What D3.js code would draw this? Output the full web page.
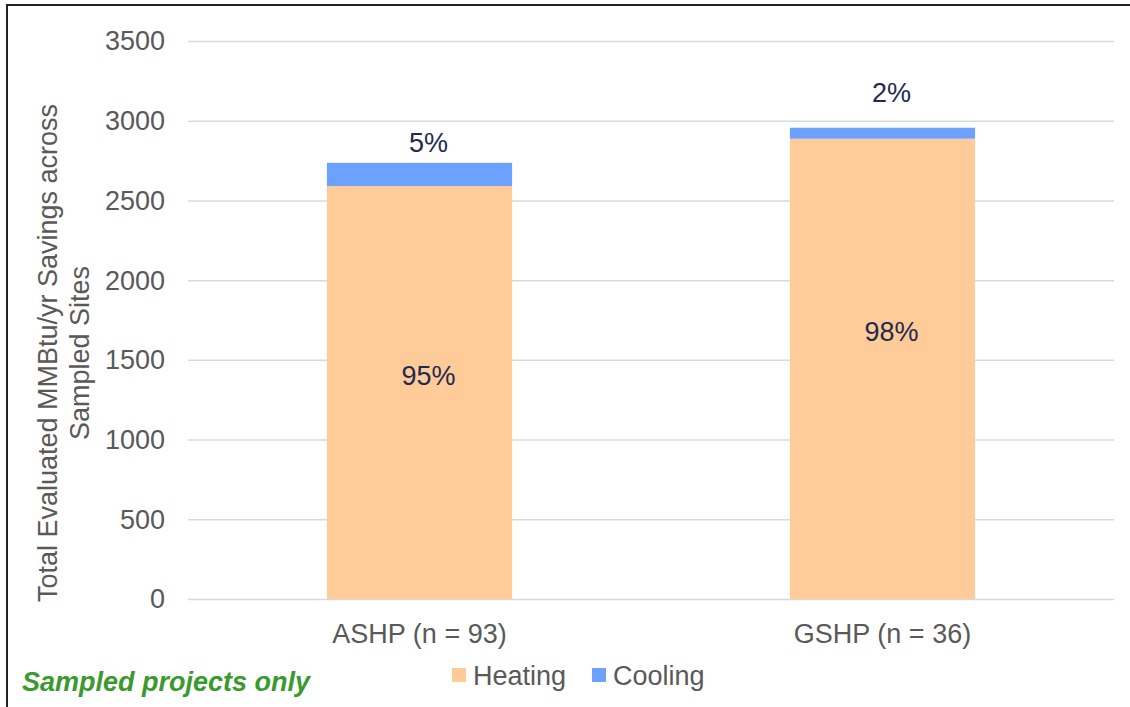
<!DOCTYPE html>
<html>
<head>
<meta charset="utf-8">
<script src="https://cdn.jsdelivr.net/npm/d3@7"></script>
<style>
  body { margin: 0; background: #fff; }
  svg text { font-family: "Liberation Sans", Arial, sans-serif; }
</style>
</head>
<body>
<svg width="1130" height="707"></svg>
<script>
const categories = ['ASHP (n = 93)', 'GSHP (n = 36)'];
const seriesNames = ['Heating', 'Cooling'];
const heating = [2590, 2887];
const cooling = [146, 69];
const yTicks = [0, 500, 1000, 1500, 2000, 2500, 3000, 3500];
// value levels at which the percentage labels sit
const heatingLabelAt = [1400, 1675];
const coolingLabelAt = [2860, 3175];

const COLORS = { Heating: '#ffcc99', Cooling: '#6ca1ff' };
const LABEL_COLOR = '#1f2a4f';
const AXIS_TEXT = '#595959';
const FS = 27;

const svg = d3.select('svg'),
    width = +svg.attr('width'),
    height = +svg.attr('height');

const margin = { top: 41, right: 16, bottom: 108, left: 188 };

const x = d3.scaleBand()
  .domain(categories)
  .range([margin.left, width - margin.right])
  .paddingInner(0.6)
  .paddingOuter(0.3);

const y = d3.scaleLinear()
  .domain([0, 3500])
  .range([height - margin.bottom, margin.top]);

// frame
svg.append('line')
  .attr('x1', 7).attr('x2', 7).attr('y1', 4).attr('y2', height)
  .attr('stroke', '#222').attr('stroke-width', 2);
svg.append('line')
  .attr('x1', 6).attr('x2', width).attr('y1', 5).attr('y2', 5)
  .attr('stroke', '#222').attr('stroke-width', 2);

// gridlines
svg.append('g')
  .selectAll('line')
  .data(yTicks)
  .enter().append('line')
    .attr('x1', margin.left)
    .attr('x2', width - margin.right)
    .attr('y1', d => y(d) + 0.5)
    .attr('y2', d => y(d) + 0.5)
    .attr('stroke', '#d9d9d9')
    .attr('stroke-width', 1.5);

// y tick labels
svg.append('g')
  .selectAll('text')
  .data(yTicks)
  .enter().append('text')
    .attr('x', 165)
    .attr('y', d => y(d))
    .attr('dy', '0.35em')
    .attr('text-anchor', 'end')
    .attr('font-size', FS)
    .attr('fill', AXIS_TEXT)
    .text(d => d);

// stacked bars
const rows = categories.map((c, i) => ({ cat: c, Heating: heating[i], Cooling: cooling[i] }));
const stack = d3.stack().keys(seriesNames)(rows);

svg.append('g')
  .selectAll('g')
  .data(stack)
  .enter().append('g')
    .attr('fill', d => COLORS[d.key])
  .selectAll('rect')
  .data(d => d)
  .enter().append('rect')
    .attr('x', d => x(d.data.cat))
    .attr('width', x.bandwidth())
    .attr('y', d => y(d[1]))
    .attr('height', d => y(d[0]) - y(d[1]));

// percentage labels
rows.forEach((r, i) => {
  const total = r.Heating + r.Cooling;
  const cx = x(r.cat) + x.bandwidth() / 2 + 9;
  svg.append('text')
    .attr('x', cx)
    .attr('y', y(heatingLabelAt[i]))
    .attr('dy', '0.35em')
    .attr('text-anchor', 'middle')
    .attr('font-size', FS)
    .attr('fill', LABEL_COLOR)
    .text(Math.round(r.Heating / total * 100) + '%');
  svg.append('text')
    .attr('x', cx)
    .attr('y', y(coolingLabelAt[i]))
    .attr('dy', '0.35em')
    .attr('text-anchor', 'middle')
    .attr('font-size', FS)
    .attr('fill', LABEL_COLOR)
    .text(Math.round(r.Cooling / total * 100) + '%');
});

// x category labels
svg.append('g')
  .selectAll('text')
  .data(categories)
  .enter().append('text')
    .attr('x', d => x(d) + x.bandwidth() / 2)
    .attr('y', 643)
    .attr('text-anchor', 'middle')
    .attr('font-size', FS)
    .attr('fill', AXIS_TEXT)
    .text(d => d);

// y axis title
const title = svg.append('text')
  .attr('transform', 'translate(57,353) rotate(-90)')
  .attr('text-anchor', 'middle')
  .attr('font-size', FS)
  .attr('fill', AXIS_TEXT);
title.append('tspan').attr('x', 0).attr('dy', 0).text('Total Evaluated MMBtu/yr Savings across');
title.append('tspan').attr('x', 0).attr('dy', 32).text('Sampled Sites');

// legend
const legendPos = [452, 592];
const legend = svg.append('g')
  .selectAll('g')
  .data(seriesNames)
  .enter().append('g')
    .attr('transform', (d, i) => 'translate(' + legendPos[i] + ',668)');
legend.append('rect')
  .attr('width', 14).attr('height', 14)
  .attr('fill', d => COLORS[d]);
legend.append('text')
  .attr('x', 21).attr('y', 17)
  .attr('font-size', FS)
  .attr('fill', AXIS_TEXT)
  .text(d => d);

// note
svg.append('text')
  .attr('x', 22).attr('y', 691)
  .attr('font-size', FS)
  .attr('font-weight', 'bold')
  .attr('font-style', 'italic')
  .attr('fill', '#3a9a2f')
  .text('Sampled projects only');
</script>
</body>
</html>
